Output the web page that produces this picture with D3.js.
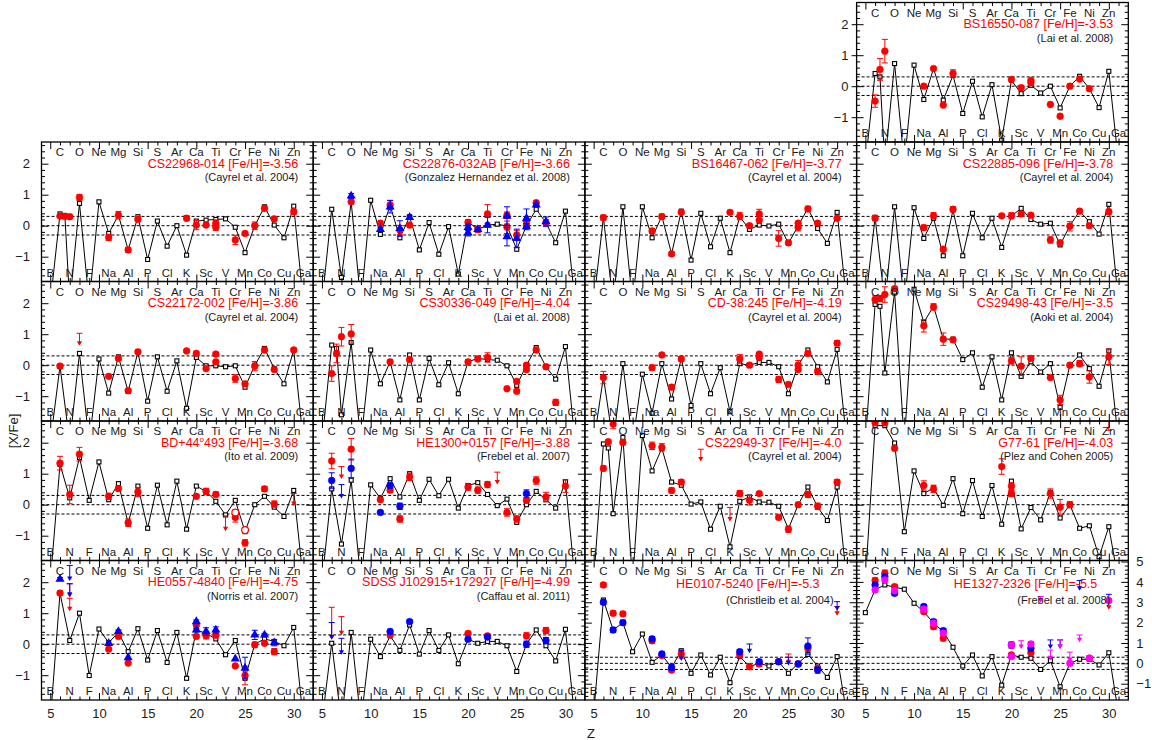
<!DOCTYPE html>
<html lang="en">
<head>
<meta charset="UTF-8">
<title>[X/Fe] patterns of metal-poor stars</title>
<style>
  body { margin: 0; background: #fff; }
  svg { display: block; font-family: "Liberation Sans", Arial, Helvetica, sans-serif; }
  .elem { font-size: 11.5px; fill: #1a1a1a; text-anchor: middle; }
  .title { font-size: 12.5px; fill: #ff0000; text-anchor: end; }
  .ref { font-size: 11px; fill: #1a1a1a; text-anchor: end; }
  .lab text { font-size: 13px; fill: #1a1a1a; }
  .axis-title { font-size: 13px; fill: #1a1a1a; }
</style>
</head>
<body>
<script src="https://d3js.org/d3.v7.min.js"></script>
<script>
// element categories
const elemZ = [5, 6, 7, 8, 9, 10, 11, 12, 13, 14, 15, 16, 17, 18, 19, 20, 21, 22, 23, 24, 25, 26, 27, 28, 29, 30, 31];
const elemNames = ["B", "C", "N", "O", "F", "Ne", "Na", "Mg", "Al", "Si", "P", "S", "Cl", "Ar", "K", "Ca", "Sc", "Ti", "V", "Cr", "Mn", "Fe", "Co", "Ni", "Cu", "Zn", "Ga"];
const xTickLabels = [5, 10, 15, 20, 25, 30];
const yTicksStd = [-1, 0, 1, 2];
const yTicksBig = [-1, 0, 1, 2, 3, 4, 5];
const refLines = [-0.3, 0, 0.3];

// model yields, on modelZ (6.5 = extra C point); -2.5 = below the frame
const modelZ = [5, 6, 6.5, 7, 8, 9, 10, 11, 12, 13, 14, 15, 16, 17, 18, 19, 20, 21, 22, 23, 24, 25, 26, 27, 28, 29, 30, 31];
const modelBS16550 = [-2.5, 0.41, 0.30, -2.5, 0.73, -2.5, 0.68, -0.43, 0.57, -0.45, 0.35, -0.88, 0.16, -0.99, 0.05, -1.74, 0.19, -0.24, 0.03, -0.22, 0.0, -0.70, 0.0, 0.32, -0.08, -0.69, 0.48, -2.5];
const modelCS22968 = [-2.5, 0.38, 0.33, -2.5, 0.72, -2.5, 0.77, -0.25, 0.34, -0.78, 0.29, -1.09, 0.15, -0.66, 0.0, -0.95, 0.15, 0.18, 0.20, 0.22, -0.05, -0.87, 0.0, 0.61, 0.02, -0.39, 0.63, -2.5];
const modelCS22876 = [-2.5, 0.53, null, -1.67, 0.77, -2.5, 0.82, -0.28, 0.65, -0.39, 0.29, -0.78, 0.10, -0.92, -0.03, -1.56, 0.13, -0.12, 0.02, 0.05, -0.01, -0.76, 0.0, 0.53, 0.10, -0.55, 0.47, -2.5];
const modelBS16467 = [-2.5, 0.27, null, -2.5, 0.61, -2.5, 0.61, -0.39, 0.31, -0.91, 0.47, -1.11, 0.40, -0.68, 0.24, -0.87, 0.29, -0.12, 0.02, -0.01, 0.05, -0.57, 0.0, 0.56, -0.09, -0.57, 0.43, -2.5];
const modelCS22885 = [-2.5, 0.27, null, -2.5, 0.61, -2.5, 0.58, -0.41, 0.24, -0.97, 0.51, -0.97, 0.40, -0.39, 0.24, -0.70, 0.31, 0.56, 0.20, 0.05, 0.08, -0.62, 0.0, 0.47, 0.13, -0.27, 0.69, -2.5];
const modelCS22172 = [-2.5, -0.03, null, -2.5, 0.38, -2.5, 0.20, -0.90, 0.27, -0.85, 0.43, -1.16, 0.27, -0.84, 0.14, -1.39, 0.25, -0.02, -0.02, -0.05, -0.02, -0.71, 0.0, 0.54, -0.11, -0.60, 0.49, -2.5];
const modelCS30336 = [-2.5, 0.65, 0.54, -1.6, 0.73, -2.5, 0.49, -0.60, 0.11, -1.12, 0.33, -1.12, 0.22, -0.63, 0.08, -0.92, 0.11, 0.22, 0.18, 0.16, -0.02, -0.65, 0.0, 0.57, -0.05, -0.45, 0.60, -2.5];
const modelCD38 = [-2.5, -0.38, null, -2.5, 0.05, -2.5, -0.29, -1.55, 0.05, -1.09, 0.22, -1.30, 0.05, -0.92, -0.08, -1.50, 0.05, 0.0, 0.09, 0.09, -0.05, -0.92, 0.0, 0.49, -0.05, -0.54, 0.51, -2.5];
const modelCS29498 = [-2.5, 1.96, 1.90, -0.25, 2.36, -2.5, 2.45, 1.38, 1.90, 0.84, 0.84, 0.18, 0.40, -0.71, 0.27, -1.12, 0.40, -0.36, 0.11, -0.22, 0.05, -1.36, 0.0, 0.33, -0.11, -0.68, 0.46, -2.5];
const modelBD44 = [-2.5, 1.30, null, 0.22, 1.52, 0.14, 1.38, 0.16, 0.68, -0.60, 0.60, -0.76, 0.63, -0.65, 0.76, -0.79, 0.60, 0.43, 0.11, -0.33, 0.14, -0.87, 0.0, 0.27, -0.08, -0.38, 0.46, -2.5];
const modelHE1300 = [-2.5, 0.51, null, -1.27, 0.79, -2.5, 0.64, 0.20, 0.84, 0.25, 1.0, 0.14, 0.82, 0.29, 0.82, -0.11, 0.62, 0.71, 0.33, -0.03, 0.18, -0.57, 0.0, 0.43, 0.16, -0.11, 0.74, -2.5];
const modelCS22949 = [-2.5, 1.96, 1.83, -0.29, 2.17, -2.5, 2.23, 1.09, 1.82, 0.73, 0.63, 0.02, 0.09, -0.79, -0.05, -1.36, 0.11, 0.25, 0.09, 0.08, -0.05, -0.78, 0.0, 0.57, -0.08, -0.51, 0.57, -2.5];
const modelG7761 = [-2.5, 2.55, null, 2.55, 1.99, -0.87, 1.09, 0.36, 0.54, -0.02, 0.84, -0.29, 0.78, -0.38, 0.62, -0.63, 0.76, -0.78, -0.09, -0.49, 0.40, -0.43, 0.0, -0.76, -0.68, -1.68, -0.71, -2.5];
const modelHE0557 = [-2.5, 1.65, null, 0.12, 1.0, -1.01, 0.49, 0.05, 0.38, -0.24, 0.50, -0.51, 0.44, -0.59, 0.38, -1.10, 0.46, 0.35, 0.17, -0.34, 0.12, -1.10, 0.0, 0.17, 0.09, -0.05, 0.54, -2.5];
const modelSDSS = [-2.5, 0.03, null, -2.5, 0.38, -2.5, 0.16, -0.40, 0.27, -0.20, 0.62, -0.32, 0.44, -0.20, 0.30, -0.63, 0.16, 0.03, 0.09, 0.09, -0.05, -0.88, 0.0, 0.46, -0.05, -0.54, 0.48, -2.5];
const modelHE0107 = [-2.5, 3.11, null, 1.64, 2.0, 0.57, 1.44, 0.05, 0.41, -0.20, 0.62, -0.49, 0.41, -0.57, 0.30, -0.95, 0.33, -0.16, 0.0, -0.13, 0.08, -0.49, 0.0, 0.44, -0.13, -0.69, 0.33, -2.5];
const modelHE1327 = [2.49, 3.61, null, 3.85, 3.74, 3.64, 2.95, 2.54, 1.97, 1.56, 0.79, -0.13, 0.41, -0.62, 0.33, -1.07, 0.41, 0.30, 0.25, -0.30, 0.13, -1.15, 0.0, 0.20, 0.20, -0.08, 0.52, -2.5];

// observations: [Z, [X/Fe], error]; "u" = upper limit (value = cap, error = arrow length), "o" = open symbol
const redBS16550 = [[6, -0.48, 0.2], [6.5, 0.54, 0.35], [7, 1.13, 0.38], [11, 0.0, 0], [12, 0.57, 0], [13, -0.61, 0], [14, 0.41, 0.12], [20, 0.22, 0], [21, -0.05, 0], [22, 0.19, 0.05], [22, 0.11, 0], [24, -0.59, 0], [25, -0.97, 0], [26, 0.0, 0], [27, 0.23, 0], [28, -0.08, 0]];
const redCS22968 = [[6, 0.31, 0.05], [6.5, 0.30, 0.05], [7, 0.29, 0.05], [8, 0.91, 0.1], [11, -0.38, 0.1], [12, 0.34, 0.12], [13, -0.78, 0.08], [14, 0.21, 0.08], [19, 0.24, 0.08], [20, 0.02, 0.15], [21, 0.02, 0], [22, 0.08, 0.1], [22, -0.05, 0.1], [24, -0.46, 0.15], [25, -0.25, 0], [26, 0.0, 0.12], [27, 0.56, 0.08], [28, 0.22, 0], [30, 0.45, 0.08]];
const redCS22876 = [[8, 0.77, 0], [11, 0.08, 0], [12, 0.67, 0.15], [13, -0.14, 0.15], [14, 0.02, 0], [20, 0.11, 0.05], [21, -0.12, 0.1], [22, 0.38, 0.3], [24, 0.34, 0.1], [24, -0.05, 0.2], [25, -0.3, 0.15], [26, 0.13, 0.1], [26, 0.0, 0], [27, 0.74, 0.05], [28, 0.1, 0.1]];
const blueCS22876 = [[8, 0.96, 0.08], [11, -0.12, 0.05], [12, 0.61, 0.2], [13, -0.09, 0.25], [14, 0.27, 0.05], [20, -0.05, 0.1], [20, -0.23, 0.1], [21, -0.12, 0.05], [22, 0.02, 0.25], [24, 0.31, 0.3], [24, -0.35, 0.3], [25, -0.41, 0.3], [26, 0.24, 0.3], [26, -0.03, 0.1], [27, 0.67, 0.05], [28, 0.13, 0.15]];
const redBS16467 = [[6, 0.26, 0.08], [11, -0.17, 0.08], [12, 0.29, 0.05], [13, -0.91, 0.05], [14, 0.43, 0.05], [19, 0.43, 0.05], [20, 0.31, 0.12], [21, 0.0, 0.05], [22, 0.38, 0.15], [22, 0.18, 0.05], [24, -0.41, 0.25], [25, -0.55, 0.05], [26, -0.05, 0.12], [26, 0.08, 0.05], [27, 0.54, 0.08], [28, 0.08, 0], [30, 0.24, 0.05]];
const redCS22885 = [[6, 0.24, 0.08], [11, -0.06, 0.08], [12, 0.32, 0.1], [13, -0.76, 0.08], [14, 0.53, 0.08], [19, 0.32, 0.05], [20, 0.32, 0.1], [21, 0.38, 0.05], [22, 0.34, 0.05], [24, -0.46, 0.1], [25, -0.55, 0.05], [26, -0.02, 0.15], [27, 0.47, 0], [28, 0.0, 0], [30, 0.45, 0.08]];
const redCS22172 = [[6, -0.03, 0.05], [8, 1.03, 0.4, "u"], [11, -0.36, 0.05], [12, 0.22, 0.05], [13, -0.82, 0.05], [14, 0.43, 0.05], [19, 0.46, 0.05], [20, 0.38, 0.05], [21, -0.11, 0.05], [22, 0.36, 0.05], [22, 0.11, 0.05], [24, -0.43, 0.12], [25, -0.6, 0.05], [26, -0.03, 0.15], [27, 0.49, 0.05], [28, -0.14, 0.05], [30, 0.49, 0.05]];
const redCS30336 = [[6, -0.27, 0.25], [6.5, 0.38, 0.3], [7, 0.92, 0.3], [8, 1.01, 0.3], [12, 0.11, 0], [14, 0.18, 0.05], [20, 0.11, 0], [21, 0.2, 0.05], [22, 0.25, 0.15], [24, -0.76, 0], [25, -0.52, 0.05], [25, -0.84, 0.05], [26, 0.0, 0.05], [26, -0.14, 0.05], [27, 0.49, 0.05], [28, -0.05, 0], [29, -1.2, 0.1]];
const redCD38 = [[6, -0.4, 0.2], [11, -0.08, 0.08], [12, 0.33, 0.05], [13, -0.71, 0.08], [14, 0.2, 0.08], [20, 0.2, 0.15], [21, 0.0, 0.05], [22, 0.36, 0.05], [22, 0.25, 0.05], [24, -0.46, 0.1], [25, -0.62, 0], [26, 0.0, 0.15], [26, -0.14, 0], [27, 0.38, 0.05], [28, -0.2, 0.08], [30, 0.71, 0.08]];
const redCS29498 = [[6, 2.12, 0.12], [6.5, 2.15, 0.1], [7, 2.28, 0.25], [8, 2.47, 0.05], [11, 1.27, 0.2], [12, 1.88, 0.1], [13, 0.84, 0.2], [14, 0.82, 0.07], [20, 0.14, 0.1], [21, -0.03, 0.3], [22, 0.22, 0.05], [24, -0.4, 0.05], [25, -1.12, 0.15], [26, 0.0, 0], [27, 0.05, 0.1], [28, -0.38, 0.2], [30, 0.27, 0.25]];
const redBD44 = [[6, 1.34, 0.22], [7, 0.33, 0.3], [8, 1.63, 0.22], [11, 0.27, 0.1], [12, 0.52, 0.08], [13, -0.58, 0.12], [14, 0.41, 0.15], [20, 0.27, 0.05], [21, 0.43, 0.1], [22, 0.33, 0.08], [23, -0.36, 0.5, "u"], [24, -0.41, 0.15], [24, -0.25, 0, "o"], [25, -0.82, 0, "o"], [25, -1.23, 0.1], [27, 0.51, 0.08], [28, 0.02, 0.1], [30, 0.36, 0.4, "u"]];
const redHE1300 = [[6, 1.41, 0.25], [7, 1.23, 0.4, "u"], [8, 1.79, 0.35], [11, 0.16, 0.05], [12, 0.47, 0.08], [13, -0.46, 0.1], [14, 0.9, 0.12], [20, 0.57, 0.1], [21, 0.47, 0.1], [22, 0.65, 0.1], [23, 1.05, 0.4, "u"], [24, -0.25, 0.12], [25, -0.46, 0.1], [26, 0.14, 0.08], [27, 0.78, 0.12], [28, 0.25, 0.15], [30, 0.6, 0.2]];
const blueHE1300 = [[6, 0.78, 0.25], [7, 0.65, 0.45, "u"], [8, 1.17, 0.3], [11, -0.25, 0.05], [12, 0.62, 0.08], [13, -0.05, 0.1], [26, 0.36, 0.12]];
const redCS22949 = [[6, 1.17, 0.08], [6.5, 2.03, 0.05], [7, 2.6, 0.15], [8, 2.01, 0.08], [11, 1.9, 0.12], [12, 1.85, 0.12], [13, 0.46, 0.08], [14, 0.73, 0.08], [16, 1.79, 0.4, "u"], [19, -0.09, 0.45, "u"], [20, 0.36, 0.1], [21, 0.14, 0.15], [22, 0.36, 0.05], [24, -0.41, 0.05], [25, -0.79, 0.1], [26, 0.0, 0], [27, 0.33, 0.1], [28, -0.05, 0.1], [30, 0.73, 0.08]];
const redG7761 = [[6, 2.64, 0.05], [7, 2.64, 0.05], [8, 1.82, 0.08], [11, 0.62, 0.15], [12, 0.51, 0.12], [19, 1.23, 0.25], [20, 0.6, 0.1], [20, 0.36, 0.1], [24, 0.36, 0.15], [25, -0.08, 0.25], [26, 0.0, 0.1], [30, 3.0, 0.6]];
const redHE0557 = [[6, 1.65, 0.05], [7, 1.95, 0.45, "u"], [7, 1.48, 0.42, "u"], [11, -0.16, 0], [12, 0.25, 0.05], [13, -0.61, 0], [20, 0.25, 0], [20, 0.62, 0.05], [21, 0.27, 0.1], [22, 0.3, 0.1], [24, -0.7, 0], [25, -1.01, 0.3], [26, -0.02, 0.08], [27, 0.03, 0], [28, -0.24, 0.1]];
const blueHE0557 = [[6, 2.1, 0.05], [7, 2.54, 0.5, "u"], [7, 1.95, 0.42, "u"], [11, 0.03, 0], [12, 0.41, 0.05], [13, -0.43, 0], [20, 0.73, 0.05], [20, 0.46, 0.05], [21, 0.41, 0.12], [22, 0.46, 0.1], [24, -0.47, 0], [25, -0.77, 0.35], [26, 0.3, 0.15], [27, 0.3, 0.05], [28, 0.05, 0.1]];
const redSDSS = [[6, 1.19, 1.05, "u"], [7, 0.89, 0.6, "u"], [12, 0.3, 0.05], [20, 0.35, 0.05], [22, 0.27, 0.05], [26, 0.27, 0.1], [28, 0.44, 0.1]];
const blueSDSS = [[6, 0.7, 0.55, "u"], [7, 0.19, 0.53, "u"], [12, 0.41, 0.05], [14, 0.73, 0.05], [20, 0.16, 0.05], [22, 0.23, 0.05], [26, 0.0, 0.1], [28, 0.12, 0.1]];
const redHE0107 = [[6, 3.85, 0.1], [7, 2.46, 0.1], [8, 2.43, 0.1], [11, 1.11, 0.12], [12, 0.38, 0.08], [13, -0.33, 0.1], [14, 0.46, 0.2], [20, 0.41, 0.1], [21, -0.16, 0.15], [22, -0.03, 0.12], [24, 0.08, 0.1], [25, 0.46, 0.5, "u"], [26, -0.03, 0.05], [27, 0.74, 0.15], [28, -0.25, 0.08], [30, 2.79, 0.45, "u"]];
const blueHE0107 = [[6, 3.0, 0.1], [7, 1.64, 0.12], [8, 2.0, 0.12], [11, 1.2, 0.12], [12, 0.46, 0.1], [13, -0.2, 0.15], [14, 0.62, 0.5, "u"], [20, 0.57, 0.1], [21, 0.95, 0.45, "u"], [22, 0.08, 0.1], [24, 0.08, 0.1], [25, 0.3, 0.4, "u"], [26, -0.03, 0.1], [27, 0.85, 0.4], [28, -0.33, 0.15], [30, 3.03, 0.45, "u"]];
const redHE1327 = [[6, 4.07, 0.12], [7, 4.43, 0.15], [8, 3.77, 0.08], [11, 2.54, 0.1], [12, 1.8, 0.12], [13, 1.23, 0.12], [20, 0.41, 0.08], [22, 0.52, 0.1], [28, 0.25, 0.1], [30, 3.08, 0.45, "u"]];
const blueHE1327 = [[6, 3.85, 0.1], [7, 4.26, 0.1], [8, 3.44, 0.1], [11, 2.79, 0.1], [12, 2.05, 0.1], [13, 1.61, 0.1], [20, 0.9, 0.15], [22, 0.74, 0.15], [24, 1.15, 0.45, "u"], [25, 1.15, 0.45, "u"], [27, 4.07, 0.5, "u"], [30, 3.39, 0.4, "u"]];
const magentaHE1327 = [[6, 3.61, 0.1], [7, 4.1, 0.1], [8, 3.57, 0.1], [11, 2.66, 0.1], [12, 1.97, 0.1], [13, 1.48, 0.1], [20, 0.9, 0.1], [20, 0.33, 0.1], [21, 1.11, 0.4, "u"], [22, 0.95, 0.12], [23, 3.28, 0.3, "u"], [24, 0.65, 0.5, "u"], [25, 1.15, 0.45, "u"], [26, 0.0, 0.1], [26, 0.55, 0.5, "u"], [27, 1.39, 0.35, "u"], [28, 0.25, 0.1], [30, 3.08, 0.1]];

const RED = "#ff0000", BLUE = "#0000ff", MAGENTA = "#ff00ff";

const panels = [
  { title: "BS16550-087 [Fe/H]=-3.53", ref: "(Lai et al. 2008)", col: 3, row: 0, model: modelBS16550, series: [{ pts: redBS16550, color: RED, shape: "circle" }] },
  { title: "CS22968-014 [Fe/H]=-3.56", ref: "(Cayrel et al. 2004)", col: 0, row: 1, model: modelCS22968, series: [{ pts: redCS22968, color: RED, shape: "circle" }] },
  { title: "CS22876-032AB [Fe/H]=-3.66", ref: "(Gonzalez Hernandez et al. 2008)", col: 1, row: 1, model: modelCS22876, series: [{ pts: redCS22876, color: RED, shape: "circle" }, { pts: blueCS22876, color: BLUE, shape: "triangle" }] },
  { title: "BS16467-062 [Fe/H]=-3.77", ref: "(Cayrel et al. 2004)", col: 2, row: 1, model: modelBS16467, series: [{ pts: redBS16467, color: RED, shape: "circle" }] },
  { title: "CS22885-096 [Fe/H]=-3.78", ref: "(Cayrel et al. 2004)", col: 3, row: 1, model: modelCS22885, series: [{ pts: redCS22885, color: RED, shape: "circle" }] },
  { title: "CS22172-002 [Fe/H]=-3.86", ref: "(Cayrel et al. 2004)", col: 0, row: 2, model: modelCS22172, series: [{ pts: redCS22172, color: RED, shape: "circle" }] },
  { title: "CS30336-049 [Fe/H]=-4.04", ref: "(Lai et al. 2008)", col: 1, row: 2, model: modelCS30336, series: [{ pts: redCS30336, color: RED, shape: "circle" }] },
  { title: "CD-38:245 [Fe/H]=-4.19", ref: "(Cayrel et al. 2004)", col: 2, row: 2, model: modelCD38, series: [{ pts: redCD38, color: RED, shape: "circle" }] },
  { title: "CS29498-43 [Fe/H]=-3.5", ref: "(Aoki et al. 2004)", col: 3, row: 2, model: modelCS29498, series: [{ pts: redCS29498, color: RED, shape: "circle" }] },
  { title: "BD+44^o493 [Fe/H]=-3.68", ref: "(Ito et al. 2009)", col: 0, row: 3, model: modelBD44, series: [{ pts: redBD44, color: RED, shape: "circle" }] },
  { title: "HE1300+0157 [Fe/H]=-3.88", ref: "(Frebel et al. 2007)", col: 1, row: 3, model: modelHE1300, series: [{ pts: redHE1300, color: RED, shape: "circle" }, { pts: blueHE1300, color: BLUE, shape: "circle" }] },
  { title: "CS22949-37 [Fe/H]=-4.0", ref: "(Cayrel et al. 2004)", col: 2, row: 3, model: modelCS22949, series: [{ pts: redCS22949, color: RED, shape: "circle" }] },
  { title: "G77-61 [Fe/H]=-4.03", ref: "(Plez and Cohen 2005)", col: 3, row: 3, model: modelG7761, series: [{ pts: redG7761, color: RED, shape: "circle" }] },
  { title: "HE0557-4840 [Fe/H]=-4.75", ref: "(Norris et al. 2007)", col: 0, row: 4, model: modelHE0557, series: [{ pts: redHE0557, color: RED, shape: "circle" }, { pts: blueHE0557, color: BLUE, shape: "triangle" }] },
  { title: "SDSS J102915+172927 [Fe/H]=-4.99", ref: "(Caffau et al. 2011)", col: 1, row: 4, model: modelSDSS, series: [{ pts: redSDSS, color: RED, shape: "circle" }, { pts: blueSDSS, color: BLUE, shape: "circle" }] },
  { title: "HE0107-5240 [Fe/H]=-5.3", ref: "(Christleib et al. 2004)", col: 2, row: 4, big: true, tx: 37, rx: 23, model: modelHE0107, series: [{ pts: redHE0107, color: RED, shape: "circle" }, { pts: blueHE0107, color: BLUE, shape: "circle" }] },
  { title: "HE1327-2326 [Fe/H]=-5.5", ref: "(Frebel et al. 2008)", col: 3, row: 4, big: true, tx: 31, rx: 18, model: modelHE1327, series: [{ pts: redHE1327, color: RED, shape: "circle" }, { pts: blueHE1327, color: BLUE, shape: "circle" }, { pts: magentaHE1327, color: MAGENTA, shape: "circle" }] }
];

// layout
const colX = [41.5, 313.2, 584.9, 856.6];
const rowY = [2.5, 142, 281.5, 421, 560.5];
const panelW = 271.7, panelH = 139.5;

const x = d3.scaleLinear().domain([4.1, 32]).range([0, panelW]);
const yStd = d3.scaleLinear().domain([-1.8, 2.7]).range([panelH, 0]);
const yBig = d3.scaleLinear().domain([-1.8, 5.05]).range([panelH, 0]);
const intFmt = d3.format("d");

const xMinor = elemZ.filter(z => z % 5 !== 0);
const yMinorStd = d3.range(-16, 27, 2).map(v => v / 10).filter(v => Math.abs(v % 1) > 0.01);
const yMinorBig = d3.range(-16, 51, 2).map(v => v / 10).filter(v => Math.abs(v % 1) > 0.01);

const svg = d3.select("body").append("svg")
  .attr("width", 1152)
  .attr("height", 740);
const defs = svg.append("defs");

function noDomain(sel) { sel.select(".domain").remove(); }
function tickStyle(sel) { sel.selectAll("line").attr("stroke", "#000").attr("stroke-width", 1); }

function drawTicks(g, y, big) {
  const yMaj = big ? yTicksBig : yTicksStd;
  const yMin = big ? yMinorBig : yMinorStd;
  const axes = [
    [d3.axisBottom(x).tickValues(xTickLabels).tickSize(-7), `translate(0,${panelH})`],
    [d3.axisBottom(x).tickValues(xMinor).tickSize(-3.5), `translate(0,${panelH})`],
    [d3.axisTop(x).tickValues(xTickLabels).tickSize(-7), "translate(0,0)"],
    [d3.axisTop(x).tickValues(xMinor).tickSize(-3.5), "translate(0,0)"],
    [d3.axisLeft(y).tickValues(yMaj).tickSize(-7), "translate(0,0)"],
    [d3.axisLeft(y).tickValues(yMin).tickSize(-3.5), "translate(0,0)"],
    [d3.axisRight(y).tickValues(yMaj).tickSize(-7), `translate(${panelW},0)`],
    [d3.axisRight(y).tickValues(yMin).tickSize(-3.5), `translate(${panelW},0)`]
  ];
  axes.forEach(([ax, tr]) => {
    g.append("g").attr("transform", tr)
      .call(ax.tickFormat(""))
      .call(noDomain)
      .call(tickStyle);
  });
}

function drawPoints(plot, s, y) {
  const sg = plot.append("g");
  s.pts.forEach(d => {
    const [z, v, e, kind] = d;
    const cx = x(z);
    if (kind === "u") {
      const y0 = y(v), y1 = y(v - e);
      sg.append("line").attr("x1", cx).attr("x2", cx).attr("y1", y0).attr("y2", y1 - 3)
        .attr("stroke", s.color).attr("stroke-width", 1);
      sg.append("line").attr("x1", cx - 3).attr("x2", cx + 3).attr("y1", y0).attr("y2", y0)
        .attr("stroke", s.color).attr("stroke-width", 1);
      sg.append("path").attr("d", `M${cx - 2.6},${y1 - 4.5}L${cx + 2.6},${y1 - 4.5}L${cx},${y1}Z`)
        .attr("fill", s.color);
      return;
    }
    if (e > 0) {
      const ya = y(v - e), yb = y(v + e);
      sg.append("line").attr("x1", cx).attr("x2", cx).attr("y1", ya).attr("y2", yb)
        .attr("stroke", s.color).attr("stroke-width", 1);
      [ya, yb].forEach(yy => sg.append("line")
        .attr("x1", cx - 3).attr("x2", cx + 3).attr("y1", yy).attr("y2", yy)
        .attr("stroke", s.color).attr("stroke-width", 1));
    }
    if (s.shape === "triangle") {
      sg.append("path")
        .attr("d", d3.symbol().type(d3.symbolTriangle).size(36)())
        .attr("transform", `translate(${cx},${y(v)})`)
        .attr("fill", s.color);
    } else {
      sg.append("circle").attr("cx", cx).attr("cy", y(v)).attr("r", 3.4)
        .attr("fill", kind === "o" ? "#fff" : s.color)
        .attr("stroke", s.color).attr("stroke-width", kind === "o" ? 1.2 : 0.5);
    }
  });
}

panels.forEach((p, i) => {
  const y = p.big ? yBig : yStd;
  const g = svg.append("g").attr("transform", `translate(${colX[p.col]},${rowY[p.row]})`);

  defs.append("clipPath").attr("id", "clip" + i)
    .append("rect").attr("width", panelW).attr("height", panelH);
  const plot = g.append("g").attr("clip-path", `url(#clip${i})`);

  // reference lines at 0 and +-0.3
  plot.selectAll(".hl").data(refLines).join("line")
    .attr("x1", 0).attr("x2", panelW)
    .attr("y1", d => y(d)).attr("y2", d => y(d))
    .attr("stroke", "#000").attr("stroke-width", 1)
    .attr("stroke-dasharray", "3,2");

  // model line with small open squares
  const mpts = modelZ.map((z, k) => [z, p.model[k]]).filter(d => d[1] !== null);
  plot.append("path").datum(mpts)
    .attr("d", d3.line().x(d => x(d[0])).y(d => y(d[1])))
    .attr("fill", "none").attr("stroke", "#000").attr("stroke-width", 1);
  plot.selectAll(".msq").data(mpts).join("rect")
    .attr("x", d => x(d[0]) - 2).attr("y", d => y(d[1]) - 2)
    .attr("width", 4).attr("height", 4)
    .attr("fill", "#fff").attr("stroke", "#000").attr("stroke-width", 1.1);

  p.series.forEach(s => drawPoints(plot, s, y));

  // element names: even Z on top, odd Z at the bottom
  g.selectAll(".elem").data(elemZ).join("text")
    .attr("class", "elem")
    .attr("x", d => x(d))
    .attr("y", d => d % 2 === 0 ? 14 : panelH - 5)
    .text((d, k) => elemNames[k]);

  // star name + reference
  const t = g.append("text").attr("class", "title")
    .attr("x", panelW - (p.tx || 15))
    .attr("y", p.big ? 27 : 25.5);
  const parts = p.title.split("^o");
  t.append("tspan").text(parts[0]);
  if (parts.length > 1) {
    t.append("tspan").attr("dy", -5).attr("font-size", "8px").text("o");
    t.append("tspan").attr("dy", 5).text(parts[1]);
  }
  g.append("text").attr("class", "ref")
    .attr("x", panelW - (p.rx || 15))
    .attr("y", p.big ? 43 : 39)
    .text(p.ref);

  drawTicks(g, y, p.big);

  g.append("rect").attr("width", panelW).attr("height", panelH)
    .attr("fill", "none").attr("stroke", "#000").attr("stroke-width", 1.3);

  // tick labels
  if (p.col === 0) {
    g.append("g").attr("class", "lab")
      .call(d3.axisLeft(y).tickValues(yTicksStd).tickFormat(intFmt).tickSize(0).tickPadding(11.5))
      .call(noDomain);
  }
  if (p.row === 0) {
    g.append("g").attr("class", "lab")
      .call(d3.axisLeft(y).tickValues(yTicksStd).tickFormat(intFmt).tickSize(5).tickPadding(3))
      .call(noDomain).call(tickStyle);
  }
  if (p.row === 4) {
    g.append("g").attr("class", "lab").attr("transform", `translate(0,${panelH})`)
      .call(d3.axisBottom(x).tickValues(xTickLabels).tickFormat(intFmt).tickSize(0).tickPadding(8.5))
      .call(noDomain);
  }
  if (p.row === 4 && p.col === 3) {
    g.append("g").attr("class", "lab").attr("transform", `translate(${panelW},0)`)
      .call(d3.axisRight(y).tickValues(yTicksBig).tickFormat(intFmt).tickSize(0).tickPadding(8))
      .call(noDomain);
  }
});

// axis titles
svg.append("text").attr("class", "axis-title")
  .attr("transform", "translate(18,431) rotate(-90)")
  .attr("text-anchor", "middle")
  .text("[X/Fe]");
svg.append("text").attr("class", "axis-title")
  .attr("x", 591).attr("y", 738)
  .attr("text-anchor", "middle")
  .text("Z");
</script>
</body>
</html>
